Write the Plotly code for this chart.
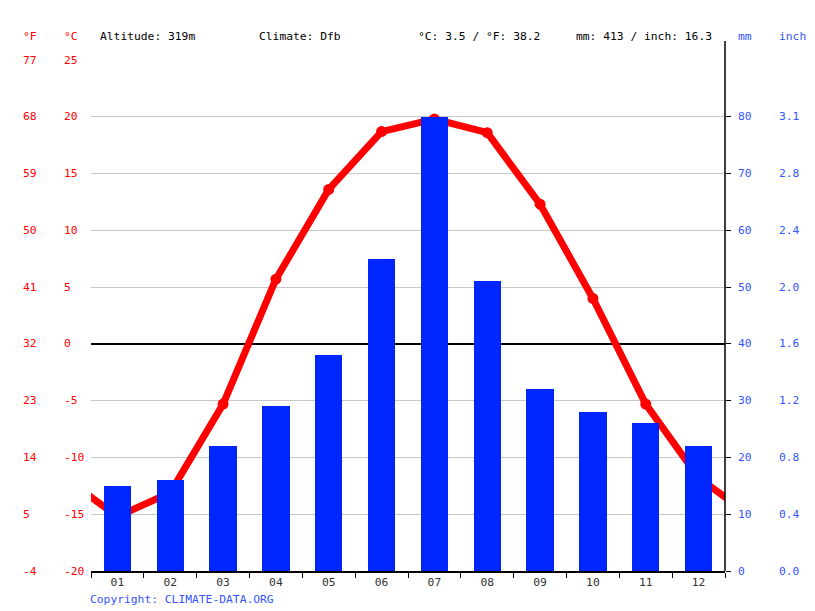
import plotly.graph_objects as go

months = ["01", "02", "03", "04", "05", "06", "07", "08", "09", "10", "11", "12"]
temp_c = [-15.2, -13.1, -5.3, 5.7, 13.6, 18.7, 19.8, 18.6, 12.3, 4.0, -5.3, -11.8]
precip_mm = [15, 16, 22, 29, 38, 55, 80, 51, 32, 28, 26, 22]
c_ticks = [-20, -15, -10, -5, 0, 5, 10, 15, 20, 25]
mm_ticks = [0, 10, 20, 30, 40, 50, 60, 70, 80]
summary_c = 3.5
summary_f = 38.2
summary_mm = 413
summary_in = 16.3

FONT = "DejaVu Sans Mono"
FS = 11.3
RED = "#ff0000"
BLUE = "#0026ff"
LBLUE = "#3355ff"

L, R, T, B = 91, 90, 60, 40
W, H = 815, 611
PW = W - L - R
PH = H - T - B

def px_x(px):
    return (px - 2 - L) / PW

def px_y(py):
    return (H - B - py) / PH

xs = list(range(12))
# wrap the line around the year so it runs to both edges
line_x = [-1] + xs + [12]
line_y = [temp_c[-1]] + temp_c + [temp_c[0]]

fig = go.Figure()
fig.add_trace(go.Bar(x=xs, y=precip_mm, yaxis="y2", marker=dict(color=BLUE, line=dict(width=0)),
                     width=0.52, showlegend=False, hoverinfo="skip"))
fig.add_trace(go.Scatter(x=line_x, y=line_y, mode="lines+markers", yaxis="y",
                         line=dict(color=RED, width=7), marker=dict(color=RED, size=11),
                         showlegend=False, hoverinfo="skip"))

annotations = []
for c in c_ticks:
    f = round(c * 9 / 5 + 32)
    annotations.append(dict(x=px_x(23), xref="paper", y=c, yref="y", text=str(f), showarrow=False,
                            xanchor="left", yanchor="middle", font=dict(family=FONT, size=FS, color=RED)))
    annotations.append(dict(x=px_x(64), xref="paper", y=c, yref="y", text=str(c), showarrow=False,
                            xanchor="left", yanchor="middle", font=dict(family=FONT, size=FS, color=RED)))
for m in mm_ticks:
    annotations.append(dict(x=px_x(738), xref="paper", y=m, yref="y2", text=str(m), showarrow=False,
                            xanchor="left", yanchor="middle", font=dict(family=FONT, size=FS, color=LBLUE)))
    annotations.append(dict(x=px_x(779), xref="paper", y=m, yref="y2", text=f"{m / 25.4:.1f}", showarrow=False,
                            xanchor="left", yanchor="middle", font=dict(family=FONT, size=FS, color=LBLUE)))

headers = [
    (23, "°F", RED), (64, "°C", RED),
    (100, "Altitude: 319m", "#000000"),
    (259, "Climate: Dfb", "#000000"),
    (418, f"°C: {summary_c:.1f} / °F: {summary_f:.1f}", "#000000"),
    (576, f"mm: {summary_mm} / inch: {summary_in:.1f}", "#000000"),
    (738, "mm", LBLUE), (779, "inch", LBLUE),
]
for px, txt, col in headers:
    annotations.append(dict(x=px_x(px), xref="paper", y=px_y(36), yref="paper", text=txt, showarrow=False,
                            xanchor="left", yanchor="middle", font=dict(family=FONT, size=FS, color=col)))
annotations.append(dict(x=px_x(90), xref="paper", y=px_y(599), yref="paper", text="Copyright: CLIMATE-DATA.ORG",
                        showarrow=False, xanchor="left", yanchor="middle",
                        font=dict(family=FONT, size=FS, color=LBLUE)))

fig.update_layout(
    width=W, height=H, margin=dict(l=L, r=R, t=T, b=B),
    paper_bgcolor="white", plot_bgcolor="white",
    bargap=0,
    xaxis=dict(range=[-0.5, 11.5], tickvals=xs, ticktext=months, ticks="", showgrid=False,
               showline=True, linecolor="black", linewidth=1.5, zeroline=False,
               tickfont=dict(family=FONT, size=FS, color="#333333"),
               minor=dict(tick0=-0.5, dtick=1, ticks="outside", ticklen=5, tickcolor="black", tickwidth=1)),
    yaxis=dict(range=[-20, 25], tickvals=c_ticks, showticklabels=False, ticks="",
               showgrid=True, gridcolor="#c8c8c8", gridwidth=1,
               zeroline=True, zerolinecolor="black", zerolinewidth=2, showline=False),
    yaxis2=dict(range=[0, 90], overlaying="y", side="right", tickvals=mm_ticks, showticklabels=False,
                ticks="outside", ticklen=5, tickcolor="black", showgrid=False, zeroline=False,
                showline=False),
    annotations=annotations,
    shapes=[dict(type="line", xref="paper", yref="paper", x0=1, x1=1, y0=0, y1=px_y(41),
                 line=dict(color="black", width=1.5))],
)

fig.write_html("out.html", config={"displayModeBar": False},
               post_script="document.body.style.margin='0';document.body.style.overflow='hidden';")
